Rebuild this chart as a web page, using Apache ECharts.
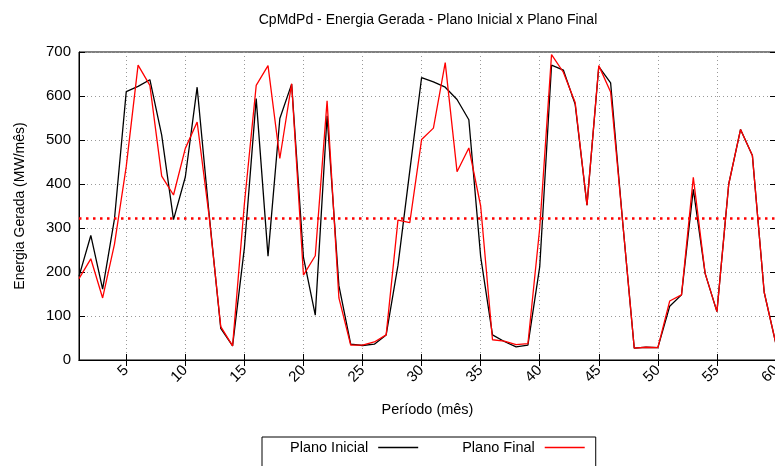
<!DOCTYPE html>
<html>
<head>
<meta charset="utf-8">
<script src="https://cdn.jsdelivr.net/npm/echarts@6/dist/echarts.min.js"></script>
<style>
html,body{margin:0;padding:0;background:#fff;overflow:hidden;}
#chart{width:775px;height:466px;}
</style>
</head>
<body>
<div id="chart"></div>
<script>
var titleText = 'CpMdPd - Energia Gerada - Plano Inicial x Plano Final';
var xAxisTitle = 'Período (mês)';
var yAxisTitle = 'Energia Gerada (MW/mês)';
var seriesNames = ['Plano Inicial', 'Plano Final'];

var periods = ['1','2','3','4','5','6','7','8','9','10','11','12','13','14','15','16','17','18','19','20',
  '21','22','23','24','25','26','27','28','29','30','31','32','33','34','35','36','37','38','39','40',
  '41','42','43','44','45','46','47','48','49','50','51','52','53','54','55','56','57','58','59','60'];

var planoInicial = [190,283,161,320,610,622,637,511,319,416,
  620,335,72,32,255,594,236,549,627,233,
  102,555,169,36,33,36,57,215,430,642,
  632,620,592,546,235,57,42,30,34,212,
  670,659,581,352,667,630,320,27,29,28,
  122,148,388,197,110,400,524,465,154,36];

var planoFinal = [185,230,141,263,440,670,624,418,375,481,
  541,330,76,32,355,624,669,458,628,193,
  237,589,141,34,34,41,57,318,312,501,
  527,676,428,482,350,46,43,35,37,300,
  694,654,585,352,669,609,320,27,29,28,
  134,148,415,197,110,400,524,465,154,36];

var mediaValue = 323;

var yMin = 0, yMax = 700, yStep = 100;
var xLabelStep = 5;

var font = 'Liberation Sans';
function showEvery(idx, val) { return (parseInt(val, 10) % xLabelStep) === 0; }

var chart = echarts.init(document.getElementById('chart'), null, {renderer: 'canvas'});
chart.setOption({
  animation: false,
  backgroundColor: '#fff',
  title: {
    text: titleText,
    left: 428,
    top: 13,
    textAlign: 'center',
    padding: 0,
    textStyle: {fontFamily: font, fontSize: 14, fontWeight: 'normal', color: '#000'}
  },
  legend: {
    data: seriesNames,
    left: 262,
    top: 437,
    orient: 'horizontal',
    align: 'right',
    icon: 'rect',
    itemWidth: 40,
    itemHeight: 1.5,
    itemGap: 44,
    padding: [3, 11, 40, 28],
    borderColor: '#000',
    borderWidth: 1,
    textStyle: {fontFamily: font, fontSize: 14.5, color: '#000', padding: [0, 5, 0, 0]}
  },
  grid: {
    left: 79, top: 52, width: 697, height: 308,
    outerBoundsMode: 'none',
    containLabel: false,
    show: true, borderColor: '#000', borderWidth: 1, backgroundColor: 'transparent'
  },
  xAxis: [{
    type: 'category',
    data: periods,
    boundaryGap: false,
    position: 'bottom',
    axisLine: {lineStyle: {color: '#000', width: 1}},
    axisTick: {inside: true, length: 6, interval: showEvery, lineStyle: {color: '#000'}},
    axisLabel: {interval: showEvery, rotate: 45, margin: 8, fontFamily: font, fontSize: 15, color: '#000'},
    splitLine: {show: true, interval: showEvery, lineStyle: {color: '#999', width: 1, type: [1, 3]}},
    name: xAxisTitle,
    nameLocation: 'middle',
    nameGap: 42,
    nameTextStyle: {fontFamily: font, fontSize: 14.5, color: '#000'}
  }, {
    type: 'category',
    data: periods,
    boundaryGap: false,
    position: 'top',
    axisLine: {lineStyle: {color: '#000', width: 1}},
    axisTick: {inside: true, length: 6, interval: showEvery, lineStyle: {color: '#000'}},
    axisLabel: {show: false},
    splitLine: {show: false}
  }],
  yAxis: [{
    type: 'value',
    min: yMin, max: yMax, interval: yStep,
    position: 'left',
    axisLine: {show: true, lineStyle: {color: '#000', width: 1}},
    axisTick: {show: true, inside: true, length: 6, lineStyle: {color: '#000'}},
    axisLabel: {margin: 8, fontFamily: font, fontSize: 15, color: '#000'},
    splitLine: {show: true, lineStyle: {color: '#999', width: 1, type: [1, 3]}},
    name: yAxisTitle,
    nameLocation: 'middle',
    nameRotate: 90,
    nameGap: 52,
    nameTextStyle: {fontFamily: font, fontSize: 14, color: '#000'}
  }, {
    type: 'value',
    min: yMin, max: yMax, interval: yStep,
    position: 'right',
    axisLine: {show: true, lineStyle: {color: '#000', width: 1}},
    axisTick: {show: true, inside: true, length: 6, lineStyle: {color: '#000'}},
    axisLabel: {show: false},
    splitLine: {show: false}
  }],
  series: [{
    name: seriesNames[0],
    type: 'line',
    data: planoInicial,
    xAxisIndex: 0, yAxisIndex: 0,
    symbol: 'none', showSymbol: false,
    lineStyle: {color: '#000', width: 1.3},
    itemStyle: {color: '#000'},
    z: 3
  }, {
    name: seriesNames[1],
    type: 'line',
    data: planoFinal,
    xAxisIndex: 0, yAxisIndex: 0,
    symbol: 'none', showSymbol: false,
    lineStyle: {color: '#ff0000', width: 1.3},
    itemStyle: {color: '#ff0000'},
    z: 4,
    markLine: {
      silent: true,
      symbol: ['none', 'none'],
      label: {show: false},
      lineStyle: {color: '#ff0000', width: 2.5, type: [2.5, 4.5]},
      data: [{yAxis: mediaValue}]
    }
  }]
});
</script>
</body>
</html>
